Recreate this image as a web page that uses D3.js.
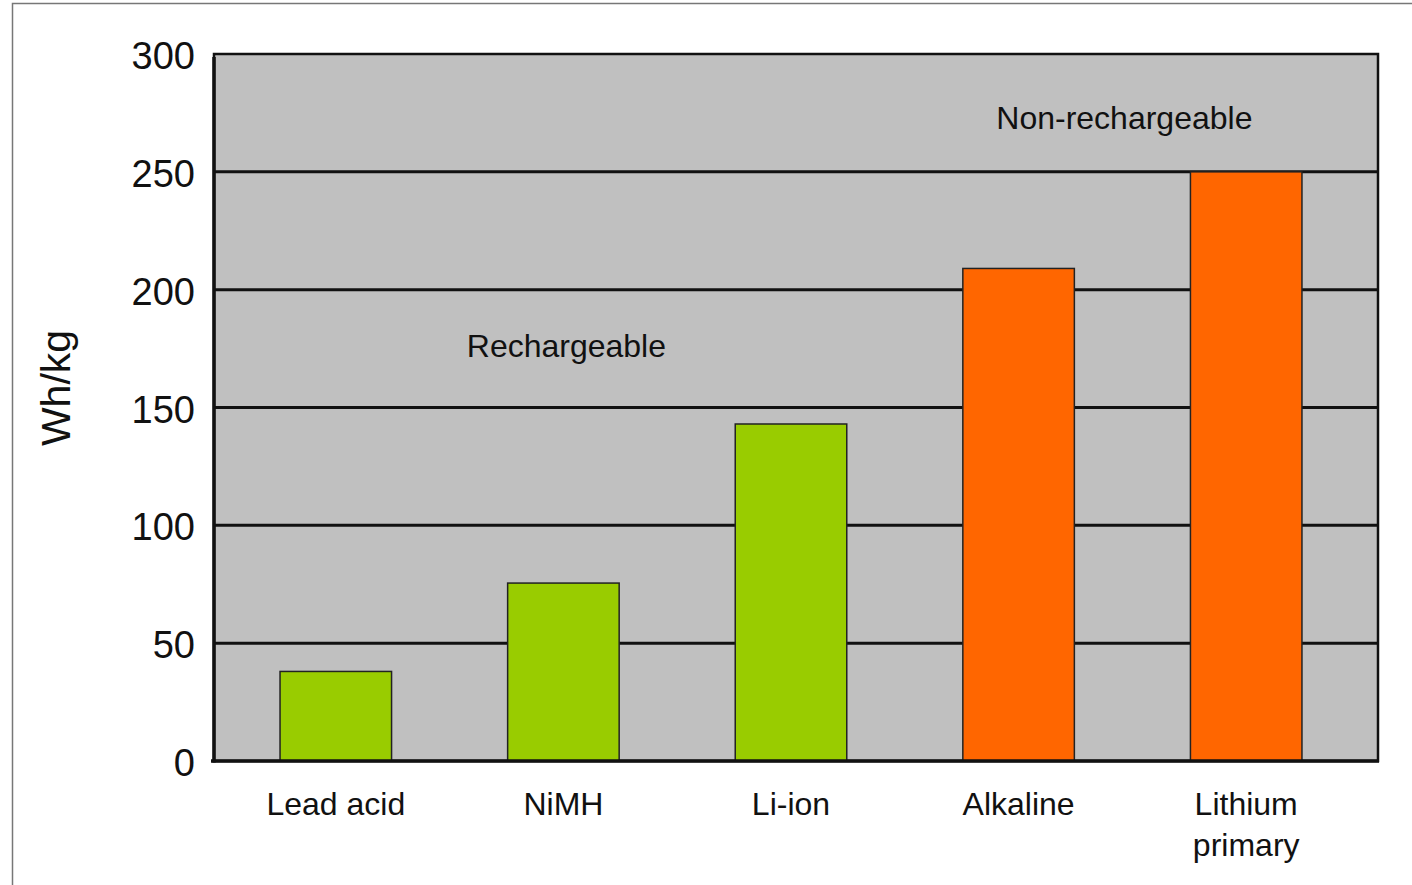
<!DOCTYPE html>
<html>
<head>
<meta charset="utf-8">
<script src="https://cdn.jsdelivr.net/npm/d3@7"></script>
<style>
  body { margin: 0; background: #fff; }
  text { font-family: "Liberation Sans", Arial, sans-serif; fill: #111; }
</style>
</head>
<body>
<div id="chart"></div>
<script>
const batteries = ["Lead acid", "NiMH", "Li-ion", "Alkaline", "Lithium primary"];
const energyWhKg = [38, 75.5, 143, 209, 250];
const batteryGroup = ["rech", "rech", "rech", "nonrech", "nonrech"];
const yTicks = [0, 50, 100, 150, 200, 250, 300];
const groupLabels = [
  { text: "Rechargeable", cat: "NiMH", value: 176 },
  { text: "Non-rechargeable", cat: "Alkaline", value: 273 },
];

const data = batteries.map((b, i) => ({ name: b, value: energyWhKg[i], group: batteryGroup[i] }));

const W = 1412, H = 885;
const plot = { left: 214, right: 1378, top: 54, bottom: 761 };

const svg = d3.select("#chart").append("svg").attr("width", W).attr("height", H);

// outer frame
svg.append("rect")
  .attr("x", 12.5).attr("y", 3.5)
  .attr("width", W).attr("height", H)
  .attr("fill", "none").attr("stroke", "#777").attr("stroke-width", 1.5);

const x = d3.scaleBand()
  .domain(batteries)
  .range([222, 1360])
  .paddingInner(0.51)
  .paddingOuter(0.255);

const y = d3.scaleLinear().domain([0, 300]).range([plot.bottom, plot.top]);

const color = { rech: "#99cc00", nonrech: "#ff6600" };

// plot background
svg.append("rect")
  .attr("x", plot.left).attr("y", plot.top)
  .attr("width", plot.right - plot.left).attr("height", plot.bottom - plot.top)
  .attr("fill", "#c0c0c0")
  .attr("stroke", "#111").attr("stroke-width", 2.5);

// gridlines
svg.append("g")
  .selectAll("line")
  .data(yTicks.filter((t) => t > 0 && t < 300))
  .join("line")
  .attr("x1", plot.left).attr("x2", plot.right)
  .attr("y1", (d) => y(d)).attr("y2", (d) => y(d))
  .attr("stroke", "#111").attr("stroke-width", 3);

// bars
svg.append("g")
  .selectAll("rect")
  .data(data)
  .join("rect")
  .attr("x", (d) => x(d.name))
  .attr("y", (d) => y(d.value))
  .attr("width", x.bandwidth())
  .attr("height", (d) => y(0) - y(d.value))
  .attr("fill", (d) => color[d.group])
  .attr("stroke", "#222").attr("stroke-width", 1.5);

// axes lines
svg.append("line")
  .attr("x1", plot.left).attr("x2", plot.left)
  .attr("y1", plot.top + 3).attr("y2", plot.bottom + 1.5)
  .attr("stroke", "#111").attr("stroke-width", 3.5);
svg.append("line")
  .attr("x1", plot.left - 3).attr("x2", plot.right + 1)
  .attr("y1", plot.bottom).attr("y2", plot.bottom)
  .attr("stroke", "#111").attr("stroke-width", 3.5);

// y tick labels
svg.append("g")
  .selectAll("text")
  .data(yTicks)
  .join("text")
  .attr("x", 195)
  .attr("y", (d) => y(d) + 15)
  .attr("text-anchor", "end")
  .attr("font-size", 38)
  .text((d) => d);

// y axis title
svg.append("text")
  .attr("transform", "translate(70, 388) rotate(-90)")
  .attr("text-anchor", "middle")
  .attr("font-size", 41)
  .text("Wh/kg");

// category labels
const catLabels = svg.append("g")
  .selectAll("text")
  .data(batteries)
  .join("text")
  .attr("x", (d) => x(d) + x.bandwidth() / 2)
  .attr("y", 815)
  .attr("text-anchor", "middle")
  .attr("font-size", 32);
catLabels.each(function (d) {
  const words = d === "Lithium primary" ? ["Lithium", "primary"] : [d];
  const t = d3.select(this);
  words.forEach((w, i) => {
    t.append("tspan")
      .attr("x", x(d) + x.bandwidth() / 2)
      .attr("dy", i === 0 ? 0 : 41)
      .text(w);
  });
});

// group labels
svg.append("g")
  .selectAll("text")
  .data(groupLabels)
  .join("text")
  .attr("x", (d) => (d.cat === "NiMH" ? x(d.cat) + x.bandwidth() / 2 + 3 : x(d.cat) + x.bandwidth() + 50))
  .attr("y", (d) => y(d.value) + 11)
  .attr("text-anchor", "middle")
  .attr("font-size", 32)
  .text((d) => d.text);
</script>
</body>
</html>
